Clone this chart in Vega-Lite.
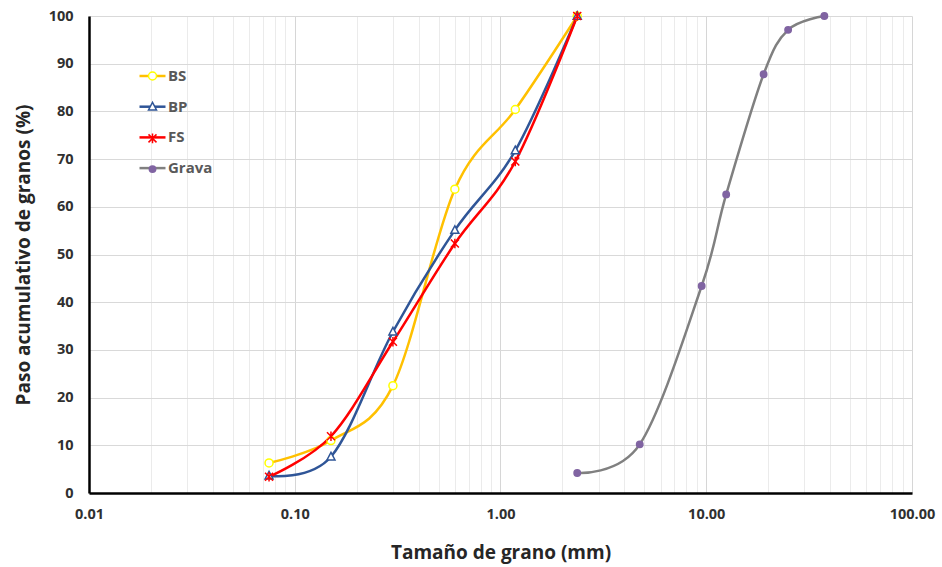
{
  "$schema": "https://vega.github.io/schema/vega-lite/v6.json",
  "width": 823,
  "height": 477,
  "autosize": {"type": "none"},
  "padding": {"left": 89, "top": 16, "right": 30, "bottom": 74},
  "background": "white",
  "config": {
    "view": {"stroke": null},
    "font": "Open Sans",
    "axis": {
      "labelFont": "Open Sans",
      "labelFontWeight": "bold",
      "labelFontSize": 14.5,
      "labelColor": "#303030",
      "titleFont": "Open Sans",
      "titleFontWeight": "bold",
      "titleFontSize": 19,
      "titleColor": "#262626",
      "ticks": false,
      "domainColor": "#000000",
      "domainWidth": 2.5,
      "labelFlush": false,
      "labelOverlap": false
    },
    "legend": {
      "title": null,
      "orient": "none",
      "legendX": 56,
      "legendY": 52.5,
      "padding": 0,
      "symbolSize": 64,
      "labelFont": "Open Sans",
      "labelFontWeight": "bold",
      "labelFontSize": 15,
      "labelColor": "#595959",
      "labelOffset": 8,
      "rowPadding": 14.7
    }
  },
  "data": {
    "values": [
      {"serie": "BS", "tamano": 0.075, "paso": 6.3},
      {"serie": "BS", "tamano": 0.15, "paso": 11.0},
      {"serie": "BS", "tamano": 0.3, "paso": 22.5},
      {"serie": "BS", "tamano": 0.6, "paso": 63.7},
      {"serie": "BS", "tamano": 1.18, "paso": 80.4},
      {"serie": "BS", "tamano": 2.36, "paso": 100},
      {"serie": "BP", "tamano": 0.075, "paso": 3.6},
      {"serie": "BP", "tamano": 0.15, "paso": 7.6},
      {"serie": "BP", "tamano": 0.3, "paso": 33.8},
      {"serie": "BP", "tamano": 0.6, "paso": 55.1},
      {"serie": "BP", "tamano": 1.18, "paso": 71.8},
      {"serie": "BP", "tamano": 2.36, "paso": 100},
      {"serie": "FS", "tamano": 0.075, "paso": 3.4},
      {"serie": "FS", "tamano": 0.15, "paso": 11.9},
      {"serie": "FS", "tamano": 0.3, "paso": 31.7},
      {"serie": "FS", "tamano": 0.6, "paso": 52.3},
      {"serie": "FS", "tamano": 1.18, "paso": 69.5},
      {"serie": "FS", "tamano": 2.36, "paso": 100},
      {"serie": "Grava", "tamano": 2.36, "paso": 4.2},
      {"serie": "Grava", "tamano": 4.75, "paso": 10.2},
      {"serie": "Grava", "tamano": 9.5, "paso": 43.4},
      {"serie": "Grava", "tamano": 12.5, "paso": 62.6},
      {"serie": "Grava", "tamano": 19, "paso": 87.8},
      {"serie": "Grava", "tamano": 25, "paso": 97.1},
      {"serie": "Grava", "tamano": 37.5, "paso": 100}
    ]
  },
  "encoding": {
    "x": {
      "field": "tamano",
      "type": "quantitative",
      "scale": {"type": "log", "domain": [0.01, 100], "nice": false},
      "axis": {
        "title": "Tamaño de grano (mm)",
        "values": [0.01, 0.02, 0.03, 0.04, 0.05, 0.06, 0.07, 0.08, 0.09,
                   0.1, 0.2, 0.3, 0.4, 0.5, 0.6, 0.7, 0.8, 0.9,
                   1, 2, 3, 4, 5, 6, 7, 8, 9,
                   10, 20, 30, 40, 50, 60, 70, 80, 90, 100],
        "labelExpr": "abs(log(datum.value)/LN10 - round(log(datum.value)/LN10)) < 1e-6 ? format(datum.value, '.2f') : ''",
        "grid": true,
        "gridColor": {
          "condition": {"test": "abs(log(datum.value)/LN10 - round(log(datum.value)/LN10)) < 1e-6", "value": "#d6d6d6"},
          "value": "#ebebeb"
        },
        "gridWidth": 1,
        "labelPadding": 14,
        "titlePadding": 23
      }
    },
    "y": {
      "field": "paso",
      "type": "quantitative",
      "scale": {"domain": [0, 100], "nice": false},
      "axis": {
        "title": "Paso acumulativo de granos (%)",
        "values": [0, 10, 20, 30, 40, 50, 60, 70, 80, 90, 100],
        "grid": true,
        "gridColor": "#d9d9d9",
        "gridWidth": 1,
        "labelPadding": 16,
        "titlePadding": 15
      }
    }
  },
  "layer": [
    {
      "mark": {"type": "line", "interpolate": "cardinal", "strokeWidth": 2.5},
      "encoding": {
        "color": {
          "field": "serie",
          "type": "nominal",
          "sort": ["BS", "BP", "FS", "Grava"],
          "scale": {"range": ["#FFC000", "#2F5597", "#FF0000", "#808080"]},
          "legend": {
            "symbolType": "M-3.25,0L3.25,0",
            "symbolStrokeWidth": 2.5
          }
        }
      }
    },
    {
      "transform": [{"calculate": "datum.serie", "as": "marca"}],
      "mark": {"type": "point", "size": 64, "strokeWidth": 1.5, "opacity": 1, "filled": false},
      "encoding": {
        "shape": {
          "field": "marca",
          "type": "nominal",
          "scale": {
            "domain": ["BS", "BP", "FS", "Grava"],
            "range": [
              "M1,0A1,1 0 1,1 -1,0A1,1 0 1,1 1,0Z",
              "M0,-1.1L1,0.8L-1,0.8Z",
              "M-1,-1L1,1M-1,1L1,-1M0,-1.2L0,1.2",
              "M0.8,0A0.8,0.8 0 1,1 -0.8,0A0.8,0.8 0 1,1 0.8,0Z"
            ]
          },
          "legend": {"labelOpacity": 0, "symbolStrokeWidth": 1.5}
        },
        "stroke": {
          "field": "marca",
          "type": "nominal",
          "scale": {
            "domain": ["BS", "BP", "FS", "Grava"],
            "range": ["#FFFF00", "#2F5597", "#FF0000", "#8064A2"]
          },
          "legend": {"labelOpacity": 0, "symbolStrokeWidth": 1.5}
        },
        "fill": {
          "field": "marca",
          "type": "nominal",
          "scale": {
            "domain": ["BS", "BP", "FS", "Grava"],
            "range": ["#ffffff", "#ffffff", "transparent", "#8064A2"]
          },
          "legend": {"labelOpacity": 0, "symbolStrokeWidth": 1.5}
        }
      }
    }
  ]
}
